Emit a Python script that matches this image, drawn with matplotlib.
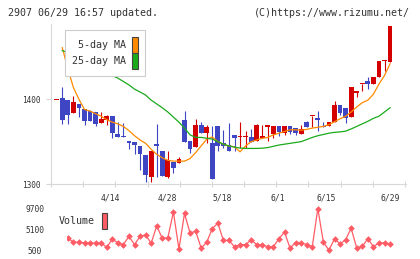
import numpy as np
import matplotlib
matplotlib.use('Agg')
import matplotlib.pyplot as plt
from matplotlib.patches import Patch

# daily candles (price units)
opens = [1399, 1402, 1399, 1384, 1394, 1388, 1386, 1385, 1371.5, 1375,
         1380, 1359, 1356.5, 1351, 1349.5, 1345, 1334, 1308.5, 1347, 1339,
         1308.5, 1326, 1325, 1376, 1350.5, 1344, 1370, 1360.5, 1348, 1369,
         1348, 1346, 1357.6, 1355, 1355, 1355, 1351, 1354.5, 1367.5, 1359.6,
         1368, 1360.5, 1368, 1366.6, 1359.6, 1373, 1380, 1378.4, 1369, 1368,
         1373, 1393, 1390, 1379, 1407.5, 1418.5, 1422, 1417.6, 1426, 1445,
         1444]
highs = [1399.5, 1414.5, 1399, 1403.5, 1394, 1388, 1387, 1385, 1385, 1381,
         1380, 1373, 1372, 1351, 1349.5, 1345, 1334, 1339, 1371, 1339,
         1339, 1326, 1331.5, 1386, 1350.5, 1377, 1373, 1369.5, 1369, 1369,
         1363.5, 1372, 1357.6, 1373.5, 1363, 1365, 1370.6, 1369.7, 1369.7, 1368.5,
         1368.5, 1368.5, 1368.5, 1366.6, 1369.7, 1374, 1380, 1386.5, 1373, 1373,
         1397.6, 1393, 1390, 1415, 1409.4, 1418.5, 1426, 1426, 1444.7, 1446,
         1487]
lows = [1399, 1371, 1371, 1384, 1379, 1369.5, 1374.5, 1369, 1371.5, 1370,
        1354.5, 1355.5, 1355, 1341, 1336, 1316, 1302.7, 1302.7, 1308.5, 1309.5,
        1307, 1313, 1325, 1350, 1337, 1344, 1360, 1348.7, 1305.5, 1339,
        1342, 1339, 1339, 1342, 1343, 1349, 1350.8, 1354.7, 1350.8, 1354.5,
        1357, 1358, 1359, 1357.6, 1359, 1367.7, 1367.7, 1363, 1367.5, 1368,
        1373, 1382, 1372, 1379, 1402.7, 1409.4, 1411.8, 1417.6, 1426, 1434,
        1444]
closes = [1399, 1376, 1381, 1397, 1390, 1374.5, 1374.5, 1371, 1376.5, 1380,
          1360, 1355.5, 1355, 1348, 1345.5, 1336, 1310.5, 1339, 1345, 1309.5,
          1328, 1319, 1329.5, 1350, 1341, 1370, 1360, 1367.5, 1305.5, 1345,
          1345, 1339, 1354.7, 1355, 1355, 1349, 1369.7, 1356.7, 1369.7, 1368.5,
          1361, 1368.5, 1361.5, 1360.5, 1364.6, 1367.7, 1380, 1375.6, 1367.5, 1373,
          1393, 1384, 1378.4, 1415, 1409.4, 1418.5, 1417.6, 1426, 1444.7, 1445,
          1487]

# moving averages, from the 2nd candle on
ma5 = [1461, 1436, 1414, 1400, 1388, 1386, 1383, 1380, 1376, 1373,
       1371, 1368, 1363, 1357, 1352, 1348, 1341, 1335, 1331, 1328,
       1327, 1327, 1327, 1330, 1337, 1345, 1353, 1355.5, 1350, 1347,
       1344.7, 1344, 1338, 1345, 1350, 1352, 1354, 1355, 1358, 1360,
       1362, 1364, 1364, 1363.5, 1364.5, 1366, 1367, 1368, 1370, 1373.5,
       1377, 1380, 1385, 1391, 1396, 1399, 1406, 1418, 1428, 1442]
ma25 = [1457.6, 1455, 1452, 1449, 1446, 1443, 1439, 1436, 1432, 1428,
        1425, 1421, 1417, 1412, 1408.6, 1405, 1399, 1394.5, 1390, 1385,
        1379, 1373, 1366, 1358, 1355, 1355, 1354, 1353, 1350, 1347,
        1345, 1343.5, 1342.5, 1342, 1342, 1342, 1342.3, 1343, 1344.5, 1346,
        1347, 1348, 1349, 1350, 1352.5, 1355, 1357, 1358.5, 1360, 1361,
        1361.5, 1362.4, 1365, 1368, 1371, 1374, 1377.5, 1380, 1385, 1390]

# volume, from the 3rd candle on
volume = [3170, 2250, 2250, 2100, 2100, 2020, 2100, 1100, 2940, 2100,
          1720, 3560, 1720, 3560, 3860, 2020, 5860, 3100, 3260, 8920,
          730, 8620, 4250, 4710, 960, 2250, 5240, 6480, 2640, 2640,
          1260, 1720, 1720, 2800, 1720, 1720, 1260, 1260, 3030, 4480,
          960, 2180, 2180, 1720, 1260, 9700, 2250, 500, 3030, 1880,
          2800, 5330, 960, 1330, 3030, 1260, 2100, 2100, 1880]

date_labels = ['4/14', '4/28', '5/18', '6/1', '6/15', '6/29']
date_pos = [9.65, 19.85, 29.8, 39.8, 48.5, 60]
price_ticks = [1300, 1400]
vol_ticks = [500, 5100, 9700]

RED = '#d40000'
BLUE = '#3f46c4'
ORANGE = '#ff8a00'
GREEN = '#1aaa1a'
VOLC = '#ff5c66'
GRID = '#d8d8d8'
TXT = '#333333'

plt.rcParams['font.family'] = ['DejaVu Sans Mono']

W, H = 420, 259
fig = plt.figure(figsize=(W / 100, H / 100), dpi=100)


def box(l, t, r, b):
    return [l / W, 1 - b / H, (r - l) / W, (b - t) / H]


ax = fig.add_axes(box(51, 24, 406, 184))
axv = fig.add_axes(box(67, 203, 406, 254))

x = np.arange(len(opens))
o, h, l, c = map(np.array, (opens, highs, lows, closes))
col = np.where(c >= o, RED, BLUE)

ax.vlines(x, l, h, colors=col, linewidth=0.8, zorder=2)
ax.bar(x, np.maximum(np.abs(c - o), 1.2), bottom=np.minimum(o, c),
       width=0.85, color=col, linewidth=0, zorder=3)
ax.plot(x[1:], ma5, color=ORANGE, lw=0.9, zorder=4)
ax.plot(x[1:], ma25, color=GREEN, lw=0.9, zorder=4)

ax.set_xlim(-1.03, 62.87)
ax.set_ylim(1300, 1488.9)
for s in ['top', 'right']:
    ax.spines[s].set_visible(False)
for s in ['left', 'bottom']:
    ax.spines[s].set_color(GRID)
    ax.spines[s].set_linewidth(0.8)

ax.set_yticks(price_ticks, [str(v) for v in price_ticks])
ax.tick_params(axis='y', direction='out', length=3.6, width=0.8, color=GRID,
               labelsize=5.6, labelcolor=TXT, pad=4)
ax.set_xticks(np.linspace(-1.03, 62.69, 12))
ax.tick_params(axis='x', which='major', direction='inout', length=4.5, width=0.8,
               color=GRID, labelbottom=False)
ax.set_xticks(date_pos, date_labels, minor=True)
ax.tick_params(axis='x', which='minor', length=0, pad=7, labelsize=5.8, labelcolor=TXT)

handles = [Patch(facecolor=ORANGE, edgecolor='#444444', linewidth=0.8, label='5-day MA'),
           Patch(facecolor=GREEN, edgecolor='#444444', linewidth=0.8, label='25-day MA')]
leg = ax.legend(handles=handles, loc='upper left', bbox_to_anchor=(65 / W, 1 - 30 / H),
                bbox_transform=fig.transFigure, markerfirst=False, fontsize=7.2,
                frameon=True, fancybox=False, framealpha=1, edgecolor='#cccccc',
                borderpad=0.7, labelspacing=0.0, handlelength=0.56, handleheight=2.1,
                handletextpad=0.6, borderaxespad=0, labelcolor=TXT)
leg.get_frame().set_linewidth(0.8)
leg.set_zorder(10)

# volume panel
axv.plot(x[2:], volume, color=VOLC, lw=0.9, marker='D', markersize=3.4,
         markeredgewidth=0)
axv.set_xlim(1.85, 62.87)
axv.set_ylim(-350, 10920)
for s in axv.spines.values():
    s.set_visible(False)
axv.set_xticks([])
axv.set_yticks(vol_ticks, [str(v) for v in vol_ticks])
axv.tick_params(axis='y', length=0, labelsize=5.7, labelcolor=TXT, pad=23.4)
for t in axv.get_yticklabels():
    t.set_horizontalalignment('center')

vleg = axv.legend(handles=[Patch(facecolor=VOLC, edgecolor='#444444', linewidth=0.8,
                                 label='Volume')],
                  loc='upper left', bbox_to_anchor=(58.7 / W, 1 - 212.7 / H),
                  bbox_transform=fig.transFigure, markerfirst=False, fontsize=7.2,
                  frameon=False, borderpad=0, handlelength=0.56, handleheight=2.1,
                  handletextpad=0.7, borderaxespad=0, labelcolor=TXT)

fig.text(8 / W, 1 - 13 / H, '2907 06/29 16:57 updated.', ha='left', va='center',
         fontsize=7.2, color=TXT)
fig.text(410 / W, 1 - 13 / H, '(C)https://www.rizumu.net/', ha='right', va='center',
         fontsize=7.2, color=TXT)

fig.savefig('out.png', dpi=100)
